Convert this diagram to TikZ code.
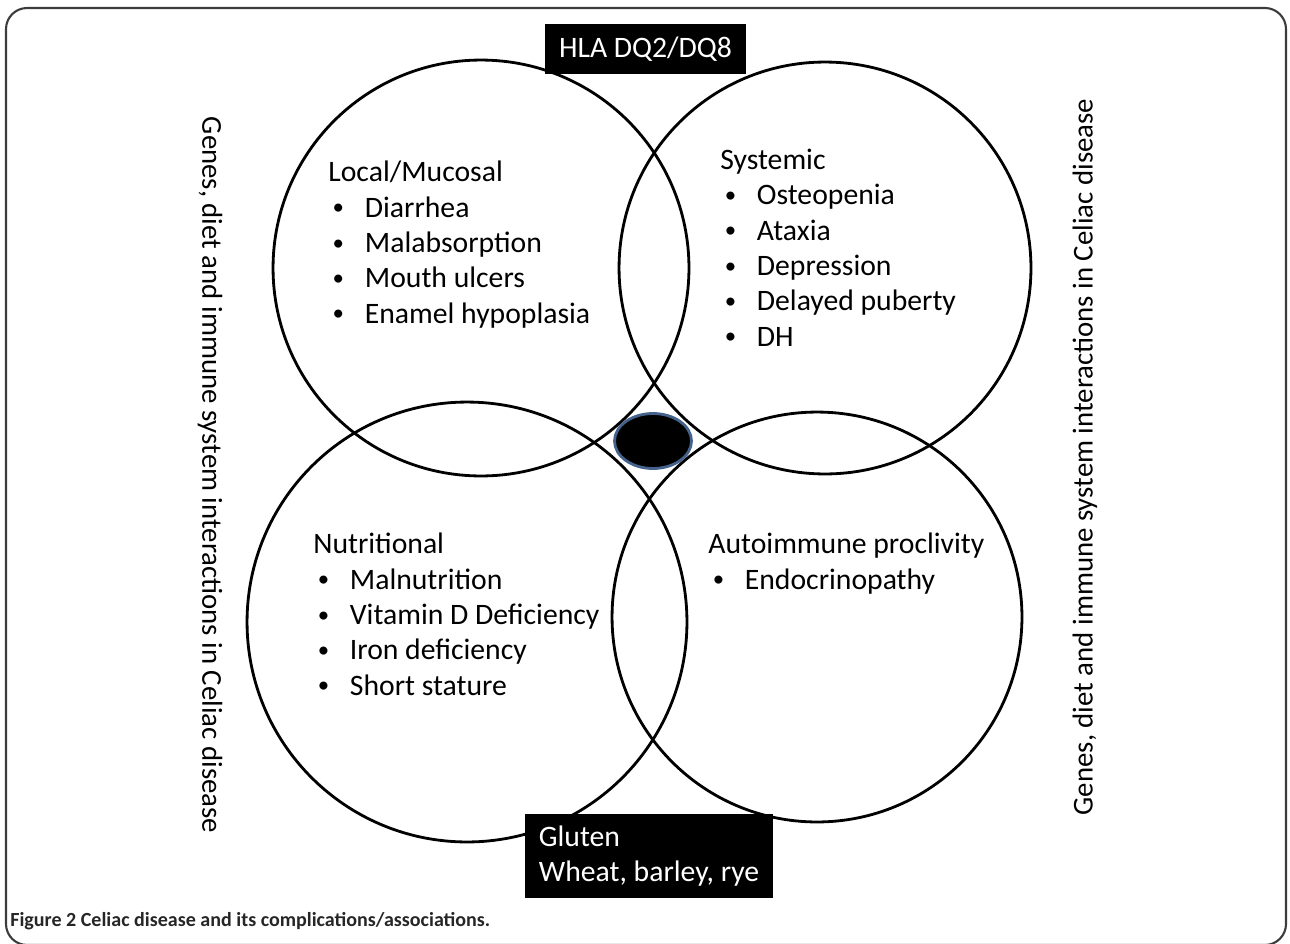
\documentclass[tikz,border=0pt]{standalone}
\usepackage{fontspec}
\setmainfont{Carlito}
\usetikzlibrary{positioning}
\usetikzlibrary{shapes.geometric}
\definecolor{rimblue}{RGB}{68,98,140}
\definecolor{framegray}{RGB}{60,60,60}
\newcommand{\bl}[1]{\hspace*{2.5pt}\makebox[18.3pt][l]{\raisebox{1.2pt}{\fontsize{13}{13}\selectfont •}}#1}
\tikzset{
	venn/.style={draw, circle, line width=1.6pt, inner sep=0pt},
	% base of a multi-line node is its last line
	group/.style={anchor=base west, align=left, inner sep=0pt, font=\fontsize{16.9}{20.1}\selectfont},
	blackbox/.style={fill=black, text=white, inner sep=0pt, font=\fontsize{16.9}{20.1}\selectfont},
	side/.style={inner sep=0pt, font=\fontsize{16.4}{20}\selectfont},
	% the small dark spot where all four meet
	blob/.style={draw=rimblue, fill=black, ellipse, line width=1.6pt},
}

\begin{document}
\begin{tikzpicture}[x=0.02cm, y=-0.02cm]
	\useasboundingbox (0,0) rectangle (1290,943);
	\draw[framegray, line width=1.2pt, rounded corners=12] (6,8) rectangle (1286,945);
	
	\node (loc) [venn, minimum size=8.32cm] at (481,268) {};
	\node (sys) [venn, minimum size=8.24cm] at (825,268) {};
	\node (nut) [venn, minimum size=8.80cm] at (467,622) {};
	\node (aut) [venn, minimum size=8.20cm] at (817,617) {};
	
	\node (core) [blob, minimum width=1.54cm, minimum height=1.1cm] at (653,441) {};
	
	\node (hla) [blackbox, minimum width=4.02cm, minimum height=1cm] at (645.5,49) {HLA DQ2/DQ8};
	\node (glu) [blackbox, minimum width=4.96cm, minimum height=1.68cm, align=left] at (649,856) {Gluten\\Wheat, barley, rye};
	
	\node (locl) [group] at (328,323) {Local/Mucosal\\ \bl{Diarrhea}\\ \bl{Malabsorption}\\ \bl{Mouth ulcers}\\ \bl{Enamel hypoplasia}};
	\node (sysl) [group] at (720,346) {Systemic\\ \bl{Osteopenia}\\ \bl{Ataxia}\\ \bl{Depression}\\ \bl{Delayed puberty}\\ \bl{DH}};
	\node (nutl) [group] at (313,695) {Nutritional\\ \bl{Malnutrition}\\ \bl{Vitamin D Deficiency}\\ \bl{Iron deficiency}\\ \bl{Short stature}};
	\node (autl) [group] at (708,589) {Autoimmune proclivity\\ \bl{Endocrinopathy}};
	
	\node (left) [side, rotate=-90] at (210,475) {Genes, diet and immune system interactions in Celiac disease};
	\node (right) [side, rotate=90] at (1085,457) {Genes, diet and immune system interactions in Celiac disease};
	
	\node (cap) [anchor=west, inner sep=0pt, text=black!85, font=\fontsize{11.4}{13}\selectfont\bfseries] at (10,921) {Figure 2 Celiac disease and its complications/associations.};
\end{tikzpicture}
\end{document}
